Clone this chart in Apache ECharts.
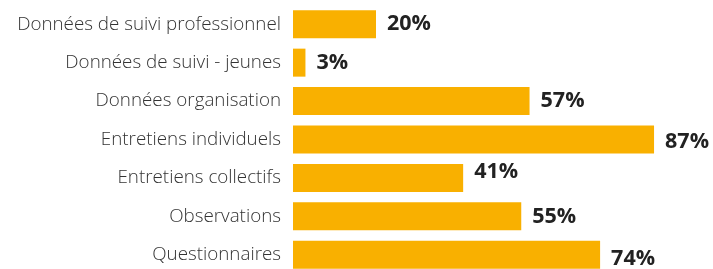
<!DOCTYPE html>
<html>
<head>
<meta charset="utf-8">
<script src="https://cdn.jsdelivr.net/npm/echarts@6/dist/echarts.min.js"></script>
<style>
  html, body { margin: 0; padding: 0; background: #fff; overflow: hidden; }
  #main { width: 713px; height: 276px; }
</style>
</head>
<body>
<div id="main"></div>
<script>
// categories, top to bottom
var categories = [
    'Données de suivi professionnel',
    'Données de suivi - jeunes',
    'Données organisation',
    'Entretiens individuels',
    'Entretiens collectifs',
    'Observations',
    'Questionnaires'
];
// share in %
var values = [20, 3, 57, 87, 41, 55, 74];

// small vertical nudges of the value labels, as in the original
var labelNudge = [0, 0, 0, 2, -6, 1, 4];

var chart = echarts.init(document.getElementById('main'));

var seriesData = values.map(function (v, i) {
    return {
        value: v,
        label: { offset: [0, labelNudge[i]] }
    };
});

var option = {
    animation: false,
    grid: {
        left: 293,
        right: 5,
        top: 5,
        bottom: 2
    },
    xAxis: {
        type: 'value',
        min: 0,
        max: 100,
        show: false
    },
    yAxis: {
        type: 'category',
        data: categories,
        inverse: true,
        axisLine: { show: false },
        axisTick: { show: false },
        splitLine: { show: false },
        axisLabel: {
            margin: 12,
            fontSize: 18.8,
            fontWeight: 300,
            color: '#333',
            fontFamily: 'Open Sans'
        }
    },
    series: [
        {
            type: 'bar',
            data: seriesData,
            barWidth: 28,
            itemStyle: { color: '#F9B000' },
            label: {
                show: true,
                position: 'right',
                distance: 11,
                formatter: '{c}%',
                fontSize: 21.5,
                fontWeight: 'bold',
                color: '#222',
                fontFamily: 'Open Sans'
            }
        }
    ]
};

chart.setOption(option);
</script>
</body>
</html>
